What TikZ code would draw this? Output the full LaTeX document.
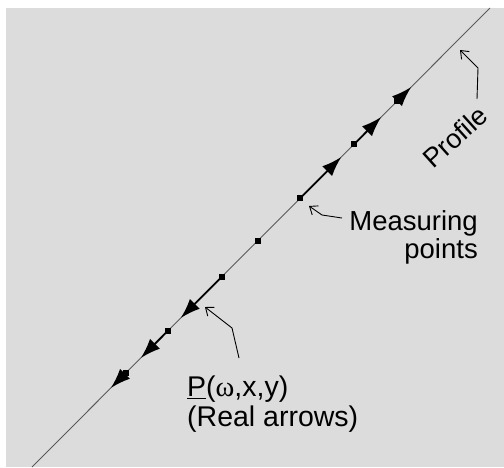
\documentclass[tikz,border=0pt]{standalone}
\usepackage{fontspec}
\setmainfont{Liberation Sans}
\newfontfamily\serifw{Liberation Serif}
\usetikzlibrary{arrows.meta}
\definecolor{bggrey}{HTML}{DCDCDC}
\definecolor{profgrey}{HTML}{5A5A5A}
\tikzset{
  mpoint/.style={fill=black,minimum size=6pt,inner sep=0pt,draw=none,rectangle},
  realarrow/.style={line width=1.8pt,-{Latex[length=20pt,width=14pt]}},
  pointer/.style={line width=0.9pt,-{Straight Barb[length=7pt,width=11pt]}},
  lbl/.style={font=\fontsize{27.5}{28}\selectfont,inner sep=0pt}
}
\begin{document}
\begin{tikzpicture}[x=1pt,y=-1pt]
\useasboundingbox (0,0) rectangle (504,467);
\fill[white] (0,0) rectangle (504,467);
\fill[bggrey] (6,8) rectangle (504,467);
% profile line
\coordinate (pA) at (490,8);
\coordinate (pB) at (32,467);
\draw[profgrey,line width=0.9pt] (pA) -- (pB);
% measuring points
\node[mpoint] (m1) at (397.2,101) {};
\node[mpoint] (m2) at (354.3,144) {};
\node[mpoint] (m3) at (300.4,198) {};
\node[mpoint] (m4) at (257.5,241) {};
\node[mpoint] (m5) at (221.6,277) {};
\node[mpoint] (m6) at (167.7,331) {};
\node[mpoint] (m7) at (125.8,373) {};
% arrow tips
\coordinate (t1) at (411.2,87);
\coordinate (t2) at (381.2,117);
\coordinate (t3) at (341.3,157);
\coordinate (t5) at (180.7,318);
\coordinate (t6) at (140.8,358);
\coordinate (t7) at (110.8,388);
\draw[realarrow] (m1.center) -- (t1);
\draw[realarrow] (m2.center) -- (t2);
\draw[realarrow] (m3.center) -- (t3);
\draw[realarrow] (m5.center) -- (t5);
\draw[realarrow] (m6.center) -- (t6);
\draw[realarrow] (m7.center) -- (t7);
% labels
\node[lbl,align=right,anchor=north east] (meas) at (478,210.5) {Measuring\\points};
\node[lbl,font=\fontsize{28.5}{30}\selectfont,align=left,anchor=north west] (plab) at (187,376)
  {\underline{P}({\serifw ω},x,y)\\(Real arrows)};
\node[lbl,font=\fontsize{27}{30}\selectfont,rotate=42] (prof) at (455,137) {Profile};
% pointers
\coordinate (pm1) at (342,218);
\coordinate (pm2) at (322,215);
\coordinate (pm3) at (309,206);
\draw[pointer] (pm1) -- (pm2) -- (pm3);
\coordinate (pp1) at (477,99);
\coordinate (pp2) at (478,68);
\coordinate (pp3) at (460,50);
\draw[pointer] (pp1) -- (pp2) -- (pp3);
\coordinate (pr1) at (239,358);
\coordinate (pr2) at (232,328);
\coordinate (pr3) at (205,307);
\draw[pointer] (pr1) -- (pr2) -- (pr3);
\end{tikzpicture}
\end{document}
